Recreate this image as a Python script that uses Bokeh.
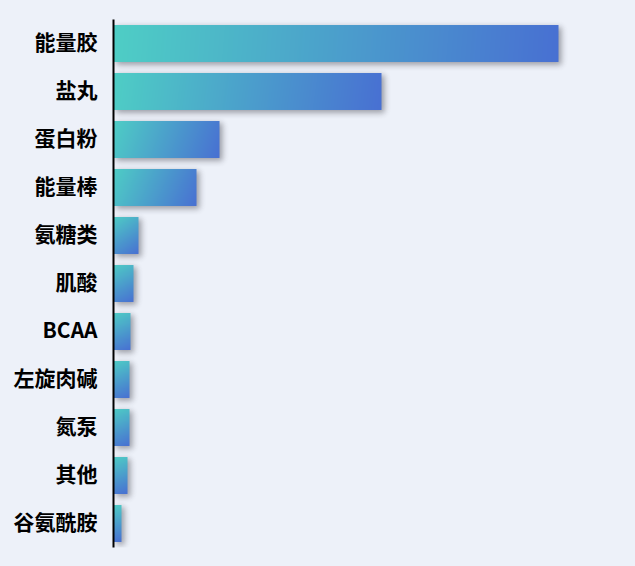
import math
import numpy as np
from bokeh.plotting import figure
from bokeh.models import Range1d, FixedTicker, ColumnDataSource
from bokeh.embed import file_html
from bokeh.resources import INLINE

# ---- data (top to bottom) ----
categories = ["能量胶", "盐丸", "蛋白粉", "能量棒", "氨糖类", "肌酸", "BCAA", "左旋肉碱", "氮泵", "其他", "谷氨酰胺"]
values = [44.5, 26.8, 10.6, 8.3, 2.5, 2.0, 1.7, 1.6, 1.6, 1.4, 0.8]

# ---- styling / layout ----
BG = "#edf1f9"
C0 = np.array([78, 206, 197], dtype=float)   # teal (top-left)
C1 = np.array([72, 112, 210], dtype=float)   # blue (bottom-right)
X_MAX = 50.0
FRAME_W = 500
FRAME_H = 528
BAR_H = 0.77
LABEL_LIFT = 0.06   # labels sit slightly above bar centre (font metrics)

N = len(categories)
ypos = [N - 1 - i for i in range(N)]

px_x = FRAME_W / X_MAX          # pixels per x unit
px_y = FRAME_H / N              # pixels per y unit


def pack(r, g, b, a):
    return (a.astype(np.uint32) << 24) | (b.astype(np.uint32) << 16) | (g.astype(np.uint32) << 8) | r.astype(np.uint32)


def gradient_image(w, h):
    cols = max(2, int(round(w)))
    rows = max(2, int(round(h)))
    xs = (np.arange(cols) + 0.5) / cols * w
    ys_top = h - (np.arange(rows) + 0.5) / rows * h   # row 0 = bottom
    X, Y = np.meshgrid(xs, ys_top)
    t = np.clip((X * w + Y * h) / (w * w + h * h), 0, 1)
    c = C0[None, None, :] + (C1 - C0)[None, None, :] * t[..., None]
    c = np.round(c).astype(np.uint32)
    a = np.full(t.shape, 255, dtype=np.uint32)
    return pack(c[..., 0], c[..., 1], c[..., 2], a).reshape(rows, cols)


def shadow_image(w, h, m, s, a0):
    W = w + 2 * m
    H = h + 2 * m
    cols = max(2, int(round(W)))
    rows = max(2, int(round(H)))
    xs = (np.arange(cols) + 0.5) / cols * W - m
    ys = (np.arange(rows) + 0.5) / rows * H - m
    erf = np.vectorize(math.erf)
    k = s * math.sqrt(2)
    ax = 0.5 * (erf(xs / k) - erf((xs - w) / k))
    ay = 0.5 * (erf(ys / k) - erf((ys - h) / k))
    A = np.clip(a0 * np.outer(ay, ax) * 255, 0, 255)
    z = np.zeros_like(A, dtype=np.uint32)
    return pack(z + 40, z + 40, z + 50, A.astype(np.uint32)).reshape(rows, cols)


bar_imgs, bx, by, bdw, bdh = [], [], [], [], []
sh_imgs, sx, sy, sdw, sdh = [], [], [], [], []
M, S, OFF = 9.0, 3.0, 3.0
for v, y in zip(values, ypos):
    yc = y - LABEL_LIFT
    w = v * px_x
    h = BAR_H * px_y
    bar_imgs.append(gradient_image(w, h))
    bx.append(0.0)
    by.append(yc - BAR_H / 2)
    bdw.append(v)
    bdh.append(BAR_H)
    sh_imgs.append(shadow_image(w, h, M, S, 0.42))
    sx.append((OFF - M) / px_x)
    sy.append(yc - BAR_H / 2 - (OFF + M) / px_y)
    sdw.append(v + 2 * M / px_x)
    sdh.append(BAR_H + 2 * M / px_y)

p = figure(width=635, height=566, output_backend="svg", toolbar_location=None,
           x_range=Range1d(0, X_MAX),
           y_range=Range1d(-0.5 - LABEL_LIFT, N - 0.5 - LABEL_LIFT),
           min_border_left=113, min_border_right=22, min_border_top=19, min_border_bottom=19)
p.background_fill_color = BG
p.border_fill_color = BG
p.outline_line_color = None
p.grid.visible = False
p.xaxis.visible = False

p.image_rgba(image="image", x="x", y="y", dw="dw", dh="dh",
             source=ColumnDataSource(dict(image=sh_imgs, x=sx, y=sy, dw=sdw, dh=sdh)))
p.image_rgba(image="image", x="x", y="y", dw="dw", dh="dh",
             source=ColumnDataSource(dict(image=bar_imgs, x=bx, y=by, dw=bdw, dh=bdh)))

ax = p.yaxis[0]
ax.ticker = FixedTicker(ticks=ypos)
ax.major_label_overrides = {y: c for y, c in zip(ypos, categories)}
ax.major_tick_line_color = None
ax.minor_tick_line_color = None
ax.axis_line_color = "#000000"
ax.axis_line_width = 2
ax.major_label_standoff = 10
ax.major_label_text_font = "Noto Sans CJK SC"
ax.major_label_text_font_style = "bold"
ax.major_label_text_font_size = "21px"
ax.major_label_text_color = "#000000"

html = file_html(p, INLINE)
html = html.replace("<head>", "<head><style>html,body{background:%s;}</style>" % BG, 1)
open("out.html", "w").write(html)
